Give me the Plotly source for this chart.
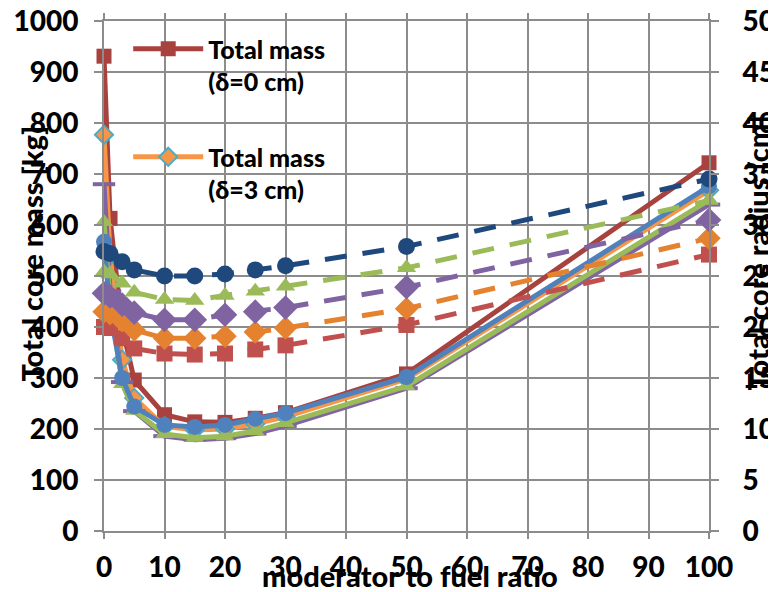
import plotly.graph_objects as go

# ---------------- data ----------------
ratio = [0, 1, 3, 5, 10, 15, 20, 25, 30, 50, 100]

# total core mass [kg] (solid lines, left axis)
mass_d0 = [931, 613, 400, 296, 228, 214, 213, 221, 232, 308, 722]
mass_d3 = [777, 540, 336, 261, 205, 198, 200, 210, 224, 298, 668]
mass_purple = [680, 470, 292, 235, 186, 179, 182, 191, 206, 280, 640]
mass_green = [606, 450, 288, 236, 190, 183, 186, 196, 212, 284, 649]
mass_blue = [567, 430, 300, 244, 208, 204, 208, 220, 231, 302, 676]

# total core radius [cm] (dashed lines, right axis)
rad_red = [20.0, 19.9, 18.9, 17.9, 17.4, 17.3, 17.4, 17.8, 18.2, 20.2, 27.1]
rad_orange = [21.5, 21.3, 20.6, 19.7, 18.9, 18.9, 19.1, 19.5, 19.9, 21.8, 28.7]
rad_purple = [23.3, 23.0, 22.2, 21.4, 20.7, 20.7, 21.2, 21.5, 21.9, 23.9, 30.5]
rad_green = [25.4, 25.2, 24.3, 23.4, 22.7, 22.6, 23.1, 23.5, 24.0, 25.8, 32.4]
rad_dkblue = [27.4, 27.2, 26.4, 25.6, 25.0, 25.0, 25.2, 25.6, 26.0, 27.9, 34.5]

legend_d0 = "Total mass<br>(δ=0 cm)"
legend_d3 = "Total mass<br>(δ=3 cm)"
x_title = "moderator to fuel ratio"
y_title = "Total core mass [kg]"
y2_title = "Total core radius [cm]"

FONT = "Lato"
GRID = "#8c8c8c"
W = 900

fig = go.Figure()

def solid(y, color, symbol, name=None, show=False, mfill=None, mline=None, msize=13, mlw=0):
    fig.add_trace(go.Scatter(
        x=ratio, y=y, mode="lines+markers", name=name or "", showlegend=show,
        legendgroup=name or None,
        line=dict(color=color, width=5),
        marker=dict(symbol=symbol, size=msize, color=mfill or color,
                    line=dict(color=mline or color, width=mlw)),
        cliponaxis=False, yaxis="y"))

solid(mass_d0, "#A8423F", "square", legend_d0, True, msize=15)
solid(mass_d3, "#F79646", "diamond", legend_d3, True, mfill="#F79646", mline="#4BACC6", msize=14, mlw=2)
solid(mass_purple, "#8064A2", "line-ew", msize=16, mlw=4)
solid(mass_green, "#9BBB59", "triangle-up", msize=16)
solid(mass_blue, "#4F81BD", "circle", msize=16)

def dashed(y, color, symbol, msize=14):
    fig.add_trace(go.Scatter(
        x=ratio, y=y, mode="lines+markers", showlegend=False,
        line=dict(color=color, width=5, dash="22px,16px"),
        marker=dict(symbol=symbol, size=msize, color=color),
        cliponaxis=False, yaxis="y2"))

dashed(rad_red, "#C0504D", "square", 16)
dashed(rad_orange, "#E4822F", "diamond", 18)
dashed(rad_purple, "#8064A2", "diamond", 19)
dashed(rad_green, "#9BBB59", "triangle-up", 17)
dashed(rad_dkblue, "#1F497D", "circle", 17)

tickfont = dict(family=FONT, size=28, color="black", weight=W)
titlefont = dict(family=FONT, size=29, color="black", weight=W)

# the page body adds an 8px offset, so the figure is 8px smaller than the window
fig.update_layout(
    width=768, height=584,
    margin=dict(l=96, r=67, t=13, b=61, autoexpand=False),
    paper_bgcolor="white", plot_bgcolor="white",
    xaxis=dict(range=[0, 100], dtick=10, tick0=0, showgrid=True, gridcolor=GRID, gridwidth=2,
               showline=True, linecolor=GRID, linewidth=2, ticks="outside", ticklen=6,
               tickwidth=2, tickcolor=GRID, mirror="ticks", tickfont=tickfont,
               ticklabelstandoff=4, zeroline=False, automargin=False,
               ticklabeloverflow="allow"),
    yaxis=dict(range=[0, 1000], dtick=100, showgrid=True, gridcolor=GRID, gridwidth=2,
               showline=True, linecolor=GRID, linewidth=2, ticks="outside", ticklen=8,
               tickwidth=2, tickcolor=GRID, tickfont=tickfont, ticklabelstandoff=10,
               zeroline=False, automargin=False, ticklabeloverflow="allow"),
    yaxis2=dict(range=[0, 50], dtick=5, overlaying="y", side="right", showgrid=False,
                showline=True, linecolor=GRID, linewidth=2, ticks="outside", ticklen=8,
                tickwidth=2, tickcolor=GRID, tickfont=tickfont, ticklabelstandoff=18,
                zeroline=False, automargin=False, ticklabeloverflow="allow"),
    legend=dict(x=0.04, y=0.99, xanchor="left", yanchor="top", bgcolor="rgba(0,0,0,0)",
                font=dict(family=FONT, size=25, color="black", weight=W),
                valign="top", itemwidth=70, tracegroupgap=40),
    shapes=[dict(type="rect", xref="paper", yref="paper", x0=0.03, x1=0.443, y0=0.567, y1=0.998,
                 fillcolor="white", line=dict(width=0), layer="between")],
    annotations=[
        dict(text=y_title, xref="paper", yref="paper", x=-0.12, y=0.545, showarrow=False,
             textangle=-90, font=titlefont, xanchor="center", yanchor="middle"),
        dict(text=y2_title, xref="paper", yref="paper", x=1.08, y=0.545, showarrow=False,
             textangle=-90, font=titlefont, xanchor="center", yanchor="middle"),
        dict(text=x_title, xref="paper", yref="paper", x=0.506, y=-0.088, showarrow=False,
             font=titlefont, xanchor="center", yanchor="middle"),
    ],
)

fig.write_html("out.html")
